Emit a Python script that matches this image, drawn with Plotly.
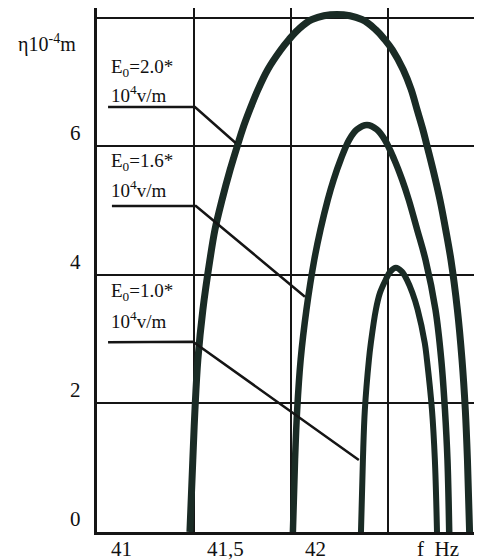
import plotly.graph_objects as go

# ---- data (f in Hz, eta in 1e-4 m) ----
f_e20 = [41.479, 41.494, 41.505, 41.520, 41.546, 41.582, 41.608, 41.645, 41.686, 41.728, 41.750, 41.788,
         41.830, 41.880, 41.948, 41.990, 42.036, 42.108, 42.237, 42.366, 42.438, 42.483, 42.523, 42.579,
         42.620, 42.650, 42.680, 42.698, 42.733, 42.768, 42.798, 42.825, 42.858, 42.882, 42.899, 42.910,
         42.921]
eta_e20 = [0.0, 1.12, 1.90, 2.68, 3.46, 4.23, 4.70, 5.17, 5.63, 6.05, 6.26, 6.57,
           6.88, 7.19, 7.50, 7.66, 7.81, 7.97, 8.05, 7.97, 7.81, 7.66, 7.50, 7.19,
           6.88, 6.57, 6.26, 6.05, 5.63, 5.17, 4.70, 4.23, 3.46, 2.68, 1.90, 1.12,
           0.0]

f_e16 = [42.010, 42.021, 42.032, 42.050, 42.080, 42.120, 42.152, 42.190, 42.220, 42.256, 42.300, 42.340,
         42.392, 42.443, 42.484, 42.533, 42.573, 42.607, 42.651, 42.694, 42.745, 42.775, 42.794, 42.807,
         42.816]
eta_e16 = [0.0, 1.12, 1.90, 2.68, 3.46, 4.23, 4.70, 5.17, 5.48, 5.79, 6.10, 6.26,
           6.33, 6.26, 6.10, 5.79, 5.48, 5.17, 4.70, 4.23, 3.46, 2.68, 1.90, 1.12,
           0.0]

f_e10 = [42.361, 42.371, 42.381, 42.402, 42.412, 42.438, 42.459, 42.488, 42.512, 42.541, 42.572, 42.598,
         42.626, 42.653, 42.690, 42.701, 42.727, 42.742, 42.753]
eta_e10 = [0.0, 1.12, 1.90, 2.68, 2.94, 3.46, 3.72, 3.92, 4.05, 4.11, 4.05, 3.92,
           3.72, 3.46, 2.94, 2.68, 1.90, 1.12, 0.0]

x_grid = [41.5, 42.0, 42.5]
y_grid = [2, 4, 6, 8]
x_tick_vals = [41.0, 41.5, 42.0]
x_tick_text = ["41", "41,5", "42"]
y_tick_vals = [0, 2, 4, 6]
y_tick_text = ["0", "2", "4", "6"]

labels_line1 = ["E<sub>0</sub>=2.0*", "E<sub>0</sub>=1.6*", "E<sub>0</sub>=1.0*"]
labels_line2 = ["10<sup>4</sup>v/m"] * 3
# leader lines: start of horizontal, knee, end on curve (x) and levels (y)
leader_x = [(41.057, 41.505, 41.715), (41.077, 41.510, 42.072), (41.057, 41.495, 42.350)]
leader_y = [(6.61, 6.61, 6.05), (5.07, 5.07, 3.66), (2.95, 2.96, 1.12)]
label_y1 = [7.22, 5.76, 3.74]
label_y2 = [6.82, 5.33, 3.30]

INK = "#1a2b25"
LINE = "#151515"
SERIF = "Liberation Serif"

fig = go.Figure()
for fx, fy, w in [(f_e20, eta_e20, 7), (f_e16, eta_e16, 6.5), (f_e10, eta_e10, 6)]:
    fig.add_trace(go.Scatter(x=fx, y=fy, mode="lines",
                             line=dict(color=INK, width=w, shape="spline", smoothing=1.0),
                             showlegend=False, hoverinfo="skip"))

for (x0, x1, x2), (y0, y1, y2) in zip(leader_x, leader_y):
    fig.add_shape(type="path", xref="x", yref="y",
                  path=f"M {x0},{y0} L {x1},{y1} L {x2},{y2}",
                  line=dict(color=LINE, width=2.5))

for t1, t2, y1, y2 in zip(labels_line1, labels_line2, label_y1, label_y2):
    fig.add_annotation(x=41.06, y=y1, xref="x", yref="y", text=t1, showarrow=False,
                       xanchor="left", yanchor="middle", font=dict(family=SERIF, size=19, color="#111"))
    fig.add_annotation(x=41.06, y=y2, xref="x", yref="y", text=t2, showarrow=False,
                       xanchor="left", yanchor="middle", font=dict(family=SERIF, size=19, color="#111"))

x_label_shift = [24, 32, 25]
for v, t, s in zip(x_tick_vals, x_tick_text, x_label_shift):
    fig.add_annotation(x=v, y=0, xref="x", yref="y", text=t, showarrow=False,
                       xanchor="center", yanchor="middle", xshift=s, yshift=-17,
                       font=dict(family=SERIF, size=21, color="#111"))
fig.add_annotation(x=42.5, y=0, xref="x", yref="y", text="f  Hz", showarrow=False,
                   xanchor="center", yanchor="middle", xshift=50, yshift=-17,
                   font=dict(family=SERIF, size=21, color="#111"))

for v, t in zip(y_tick_vals, y_tick_text):
    fig.add_annotation(x=41.0, y=v, xref="x", yref="y", text=t, showarrow=False,
                       xanchor="center", yanchor="middle", xshift=-22, yshift=13,
                       font=dict(family=SERIF, size=21, color="#111"))

fig.add_annotation(x=41.0, y=7.6, xref="x", yref="y", text="η10<sup>-4</sup>m", showarrow=False,
                   xanchor="center", yanchor="middle", xshift=-50,
                   font=dict(family=SERIF, size=20, color="#111"))

fig.update_xaxes(range=[41.0, 42.985], tickvals=x_grid, showticklabels=False, ticks="",
                 showgrid=True, gridcolor=LINE, gridwidth=2, zeroline=False,
                 showline=True, linecolor=LINE, linewidth=3)
fig.update_yaxes(range=[0, 8.15], tickvals=y_grid, showticklabels=False, ticks="",
                 showgrid=True, gridcolor=LINE, gridwidth=2, zeroline=False,
                 showline=True, linecolor=LINE, linewidth=3)

# page body has an 8px margin, so the figure is drawn from (8, 8)
fig.update_layout(width=474, height=552, margin=dict(l=89, r=0, t=0, b=28),
                  paper_bgcolor="white", plot_bgcolor="white", showlegend=False)

fig.write_html("out.html")
